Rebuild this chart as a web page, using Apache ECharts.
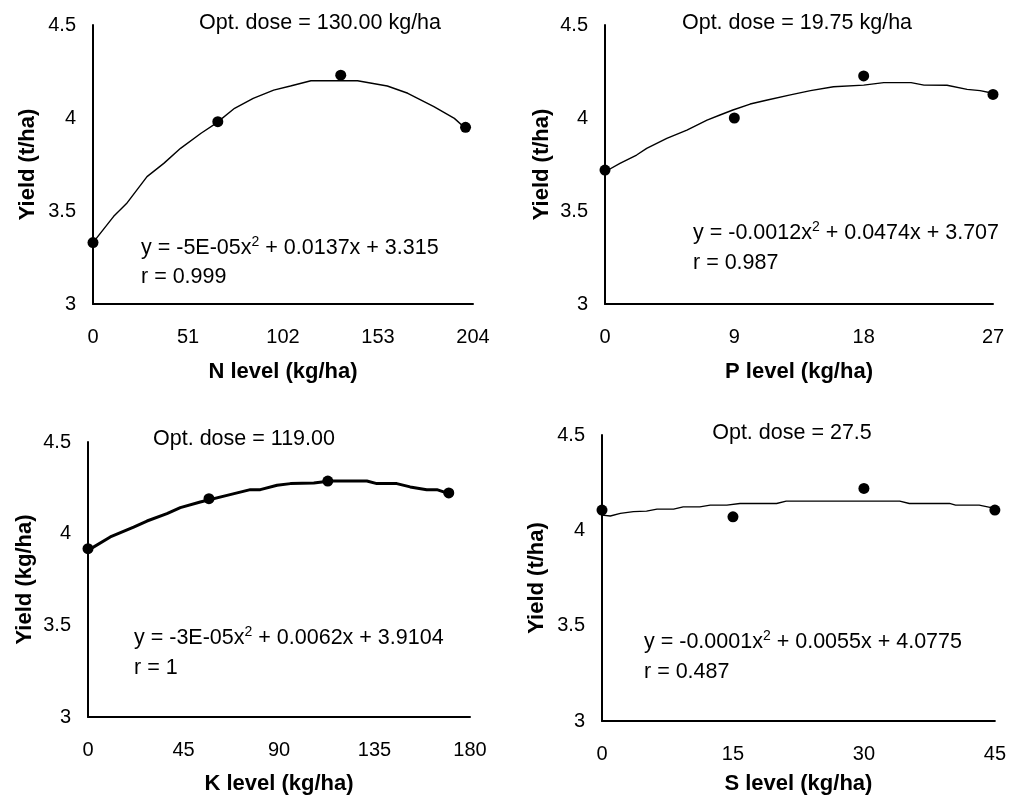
<!DOCTYPE html>
<html>
<head>
<meta charset="utf-8">
<script src="https://cdn.jsdelivr.net/npm/echarts@6/dist/echarts.min.js"></script>
<style>
html,body{margin:0;padding:0;background:#fff;}
#chart{width:1009px;height:798px;}
</style>
</head>
<body>
<div id="chart"></div>
<script>
// ---- data ----
const yTicks = [3, 3.5, 4, 4.5];

const nTicks = [0, 51, 102, 153, 204];
const nLevel = [0, 67, 133, 200];
const nYield = [3.33, 3.98, 4.23, 3.95];
const nCurveX = [0, 11, 18, 29, 38, 47, 58, 66, 76, 86, 97, 106, 117, 128, 142, 158, 169, 183, 194, 200];
const nCurveY = [3.33, 3.47, 3.54, 3.685, 3.756, 3.837, 3.918, 3.971, 4.052, 4.106, 4.15, 4.172, 4.2, 4.2, 4.2, 4.172, 4.133, 4.061, 3.998, 3.944];

const pTicks = [0, 9, 18, 27];
const pLevel = [0, 9, 18, 27];
const pYield = [3.72, 4.0, 4.226, 4.127];
const pCurveX = [0, 1.04, 2.2, 2.9, 4.3, 5.7, 7.1, 8.0, 8.9, 10.1, 11.3, 12.9, 14.3, 15.9, 18.0, 19.4, 21.3, 22.2, 23.8, 25.2, 26.1, 27];
const pCurveY = [3.711, 3.756, 3.801, 3.837, 3.891, 3.935, 3.989, 4.016, 4.043, 4.075, 4.097, 4.124, 4.147, 4.168, 4.177, 4.19, 4.19, 4.177, 4.176, 4.154, 4.147, 4.133];

const kTicks = [0, 45, 90, 135, 180];
const kLevel = [0, 57, 113, 170];
const kYield = [3.918, 4.191, 4.287, 4.222];
const kCurveX = [0, 10.5, 21.5, 27.8, 37.2, 43.5, 52.9, 65.5, 76.5, 81.2, 89.1, 95.4, 106.4, 114.1, 131.4, 136.1, 145.5, 151.8, 159.6, 164.4, 170];
const kCurveY = [3.909, 3.982, 4.036, 4.069, 4.109, 4.142, 4.173, 4.209, 4.24, 4.24, 4.264, 4.273, 4.276, 4.287, 4.287, 4.273, 4.273, 4.255, 4.24, 4.24, 4.218];

const sTicks = [0, 15, 30, 45];
const sLevel = [0, 15, 30, 45];
const sYield = [4.106, 4.071, 4.22, 4.106];
const sCurveX = [0, 0.95, 2.1, 3.6, 5.1, 6.3, 8.2, 9.3, 11.2, 12.4, 14.3, 15.8, 20.0, 21.1, 26.5, 34.1, 35.2, 39.8, 40.5, 43.2, 45];
const sCurveY = [4.08, 4.075, 4.089, 4.098, 4.101, 4.111, 4.111, 4.123, 4.123, 4.132, 4.132, 4.141, 4.141, 4.153, 4.153, 4.153, 4.141, 4.141, 4.132, 4.132, 4.115];

const xNames = ['N level (kg/ha)', 'P level (kg/ha)', 'K level (kg/ha)', 'S level (kg/ha)'];
const yNames = ['Yield (t/ha)', 'Yield (t/ha)', 'Yield (kg/ha)', 'Yield (t/ha)'];
const optTexts = ['Opt. dose = 130.00 kg/ha', 'Opt. dose = 19.75 kg/ha', 'Opt. dose = 119.00', 'Opt. dose = 27.5'];
const eqTexts = ['y = -5E-05x{sup|2} + 0.0137x + 3.315', 'y = -0.0012x{sup|2} + 0.0474x + 3.707', 'y = -3E-05x{sup|2} + 0.0062x + 3.9104', 'y = -0.0001x{sup|2} + 0.0055x + 4.0775'];
const rTexts = ['r = 0.999', 'r = 0.987', 'r = 1', 'r = 0.487'];

// ---- layout ----
const FONT = 'Arial, "Liberation Sans", sans-serif';
const grids = [
  {left: 93, top: 25, width: 380, height: 279},
  {left: 605, top: 25, width: 388, height: 279},
  {left: 88, top: 442, width: 382, height: 275},
  {left: 602, top: 435, width: 394, height: 286}
];
const lineWidths = [1.4, 1.4, 3, 1.4];
const xNameGaps = [57, 57, 56, 52];
const yNameGaps = [54, 52, 52, 54];
const optPos = [[320, 23], [797, 23], [244, 439], [792, 433]];
const eqPos = [[141, 248], [693, 233], [134, 638], [644, 642]];
const rPos = [[141, 277], [693, 263], [134, 668], [644, 672]];

const panels = [
  {ticks: nTicks, lvl: nLevel, yld: nYield, cx: nCurveX, cy: nCurveY},
  {ticks: pTicks, lvl: pLevel, yld: pYield, cx: pCurveX, cy: pCurveY},
  {ticks: kTicks, lvl: kLevel, yld: kYield, cx: kCurveX, cy: kCurveY},
  {ticks: sTicks, lvl: sLevel, yld: sYield, cx: sCurveX, cy: sCurveY}
];

const option = {
  animation: false,
  backgroundColor: '#fff',
  grid: grids.map(g => Object.assign({containLabel: false}, g)),
  xAxis: [], yAxis: [], series: [], graphic: []
};

panels.forEach((p, i) => {
  option.xAxis.push({
    type: 'value', gridIndex: i,
    min: p.ticks[0], max: p.ticks[p.ticks.length - 1], interval: p.ticks[1] - p.ticks[0],
    name: xNames[i], nameLocation: 'middle', nameGap: xNameGaps[i],
    nameTextStyle: {fontFamily: FONT, fontSize: 22, fontWeight: 'bold', color: '#000'},
    axisLine: {show: true, onZero: false, lineStyle: {color: '#000', width: 2}},
    axisTick: {show: false},
    splitLine: {show: false},
    axisLabel: {fontFamily: FONT, fontSize: 20, color: '#000', margin: 23}
  });
  option.yAxis.push({
    type: 'value', gridIndex: i,
    min: yTicks[0], max: yTicks[yTicks.length - 1], interval: yTicks[1] - yTicks[0],
    name: yNames[i], nameLocation: 'middle', nameGap: yNameGaps[i],
    nameTextStyle: {fontFamily: FONT, fontSize: 22, fontWeight: 'bold', color: '#000'},
    axisLine: {show: true, onZero: false, lineStyle: {color: '#000', width: 2}},
    axisTick: {show: false},
    splitLine: {show: false},
    axisLabel: {fontFamily: FONT, fontSize: 20, color: '#000', margin: 17}
  });
  option.series.push({
    type: 'line', xAxisIndex: i, yAxisIndex: i,
    data: p.cx.map((x, j) => [x, p.cy[j]]),
    showSymbol: false, smooth: false,
    lineStyle: {color: '#000', width: lineWidths[i]},
    z: 2
  });
  option.series.push({
    type: 'scatter', xAxisIndex: i, yAxisIndex: i,
    data: p.lvl.map((x, j) => [x, p.yld[j]]),
    symbol: 'circle', symbolSize: 11,
    itemStyle: {color: '#000', opacity: 1},
    z: 3
  });
  option.graphic.push({
    type: 'text', x: optPos[i][0], y: optPos[i][1],
    style: {text: optTexts[i], fontFamily: FONT, fontSize: 21.5, fill: '#000', align: 'center', verticalAlign: 'middle'}
  });
  option.graphic.push({
    type: 'text', x: eqPos[i][0], y: eqPos[i][1],
    style: {text: eqTexts[i], fontFamily: FONT, fontSize: 21.5, fill: '#000', align: 'left', verticalAlign: 'middle',
      rich: {sup: {fontFamily: FONT, fontSize: 14, fill: '#000', verticalAlign: 'top', padding: [0, 0, 12, 0]}}}
  });
  option.graphic.push({
    type: 'text', x: rPos[i][0], y: rPos[i][1],
    style: {text: rTexts[i], fontFamily: FONT, fontSize: 21.5, fill: '#000', align: 'left', verticalAlign: 'middle'}
  });
});

const chart = echarts.init(document.getElementById('chart'), null, {renderer: 'canvas'});
chart.setOption(option);
</script>
</body>
</html>
